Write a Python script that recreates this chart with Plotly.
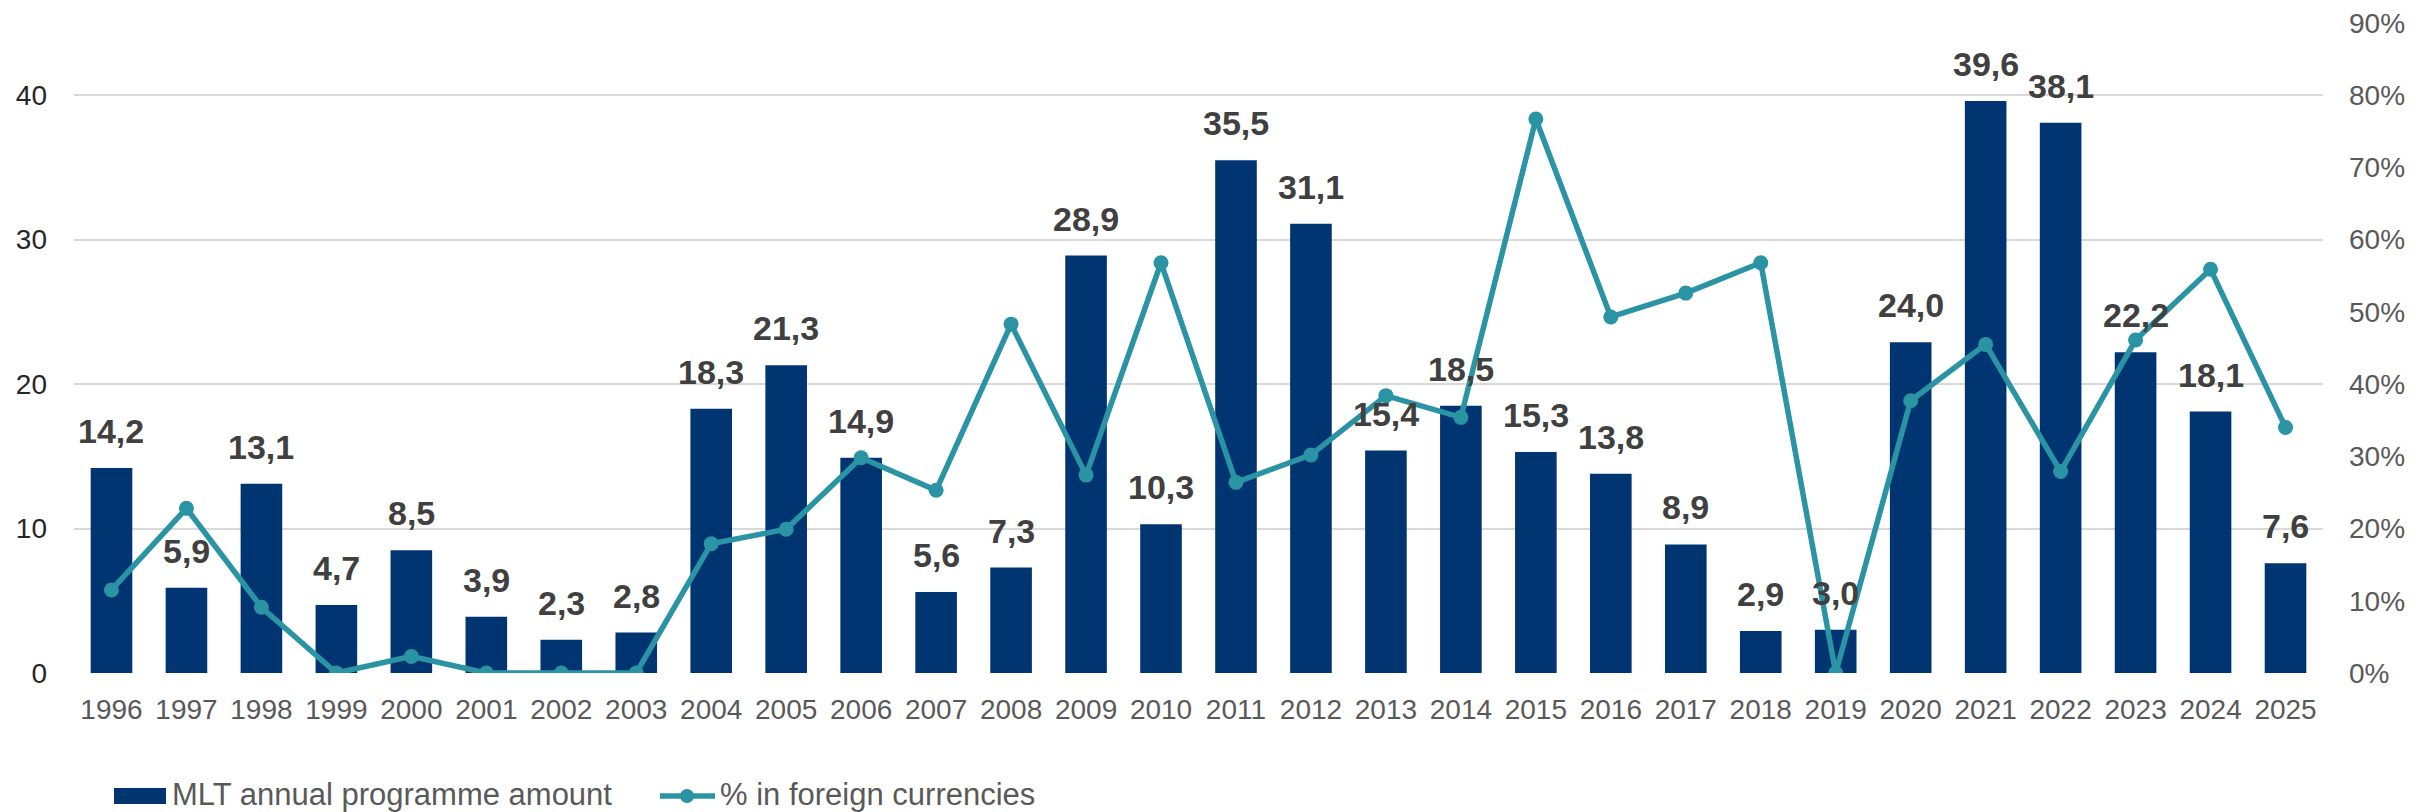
import plotly.graph_objects as go

years = [str(y) for y in range(1996, 2026)]
programme = [14.2, 5.9, 13.1, 4.7, 8.5, 3.9, 2.3, 2.8, 18.3, 21.3, 14.9, 5.6, 7.3, 28.9, 10.3,
             35.5, 31.1, 15.4, 18.5, 15.3, 13.8, 8.9, 2.9, 3.0, 22.9, 39.6, 38.1, 22.2, 18.1, 7.6]
bar_labels = ["14,2", "5,9", "13,1", "4,7", "8,5", "3,9", "2,3", "2,8", "18,3", "21,3", "14,9", "5,6",
              "7,3", "28,9", "10,3", "35,5", "31,1", "15,4", "18,5", "15,3", "13,8", "8,9", "2,9",
              "3,0", "24,0", "39,6", "38,1", "22,2", "18,1", "7,6"]
foreign_pct = [0.115, 0.228, 0.091, 0.0, 0.023, 0.0, 0.0, 0.0, 0.179, 0.199, 0.298, 0.253, 0.483,
               0.274, 0.568, 0.264, 0.302, 0.384, 0.354, 0.767, 0.493, 0.526, 0.568, 0.0, 0.377,
               0.455, 0.279, 0.461, 0.559, 0.340]
left_ticks = [0, 10, 20, 30, 40]
right_ticks = [0.0, 0.1, 0.2, 0.3, 0.4, 0.5, 0.6, 0.7, 0.8, 0.9]
right_tick_labels = ["0%", "10%", "20%", "30%", "40%", "50%", "60%", "70%", "80%", "90%"]
series_names = ["MLT annual programme amount", "% in foreign currencies"]

BAR = "#003572"
LINE = "#2A93A4"
FONT = "Liberation Sans, Arial, sans-serif"

# page has an 8px body margin: figure is placed at (8, 8) in the window
OFF = 8
W, H = 2413 - OFF, 812 - OFF
ML, MR, MT, MB = 74 - OFF, 90, 23 - OFF, 139
PW, PH = W - ML - MR, H - MT - MB


def px(xp):
    """window pixel x -> paper fraction"""
    return (xp - OFF - ML) / PW


def py(yp):
    """window pixel y -> paper fraction"""
    return (H - MB - (yp - OFF)) / PH


fig = go.Figure()
fig.add_trace(go.Bar(x=years, y=programme, name=series_names[0],
                     marker=dict(color=BAR, line=dict(width=0)), width=0.555, yaxis="y"))
fig.add_trace(go.Scatter(x=years, y=foreign_pct, name=series_names[1], yaxis="y2",
                         mode="lines+markers", line=dict(color=LINE, width=5.5),
                         marker=dict(color=LINE, size=15)))

for i, (v, t) in enumerate(zip(programme, bar_labels)):
    fig.add_annotation(x=i, y=v, xref="x", yref="y", text=t, showarrow=False,
                       yanchor="middle", yshift=37,
                       font=dict(family=FONT, size=34, color="#404040", weight="bold"))

# manual legend (below the axis)
leg_y = 795
fig.add_shape(type="rect", xref="paper", yref="paper", x0=px(114), x1=px(166),
              y0=py(804), y1=py(788), fillcolor=BAR, line=dict(width=0))
fig.add_annotation(xref="paper", yref="paper", x=px(170), y=py(leg_y), text=series_names[0],
                   showarrow=False, xanchor="left", yanchor="middle",
                   font=dict(family=FONT, size=31, color="#595959"))
fig.add_shape(type="line", xref="paper", yref="paper", x0=px(660), x1=px(715),
              y0=py(leg_y + 1), y1=py(leg_y + 1), line=dict(color=LINE, width=5.5))
fig.add_shape(type="circle", xref="paper", yref="paper", x0=px(680), x1=px(694),
              y0=py(leg_y + 8), y1=py(leg_y - 6), fillcolor=LINE, line=dict(width=0))
fig.add_annotation(xref="paper", yref="paper", x=px(718), y=py(leg_y), text=series_names[1],
                   showarrow=False, xanchor="left", yanchor="middle",
                   font=dict(family=FONT, size=31, color="#595959"))

fig.update_layout(
    width=W, height=H,
    margin=dict(l=ML, r=MR, t=MT, b=MB),
    paper_bgcolor="white", plot_bgcolor="white",
    bargap=0.445,
    showlegend=False,
    font=dict(family=FONT, color="#595959"),
    xaxis=dict(type="category", range=[-0.5, len(years) - 0.5], showgrid=False, ticks="",
               showline=False, automargin=False,
               tickfont=dict(size=28, color="#595959"), ticklabelstandoff=17),
    yaxis=dict(range=[0, 45], tickvals=left_ticks, showgrid=True, automargin=False,
               gridcolor="#D9D9D9", gridwidth=1.5, zeroline=False, showline=False, ticks="",
               tickfont=dict(size=28, color="#262626"), ticklabelstandoff=26,
               ticklabeloverflow="allow"),
    yaxis2=dict(range=[0, 0.9], tickvals=right_ticks, ticktext=right_tick_labels,
                overlaying="y", side="right", ticklabeloverflow="allow",
                showgrid=False, zeroline=False, showline=False, ticks="", automargin=False,
                tickfont=dict(size=28, color="#595959"), ticklabelstandoff=25),
)

fig.write_html("out.html")
